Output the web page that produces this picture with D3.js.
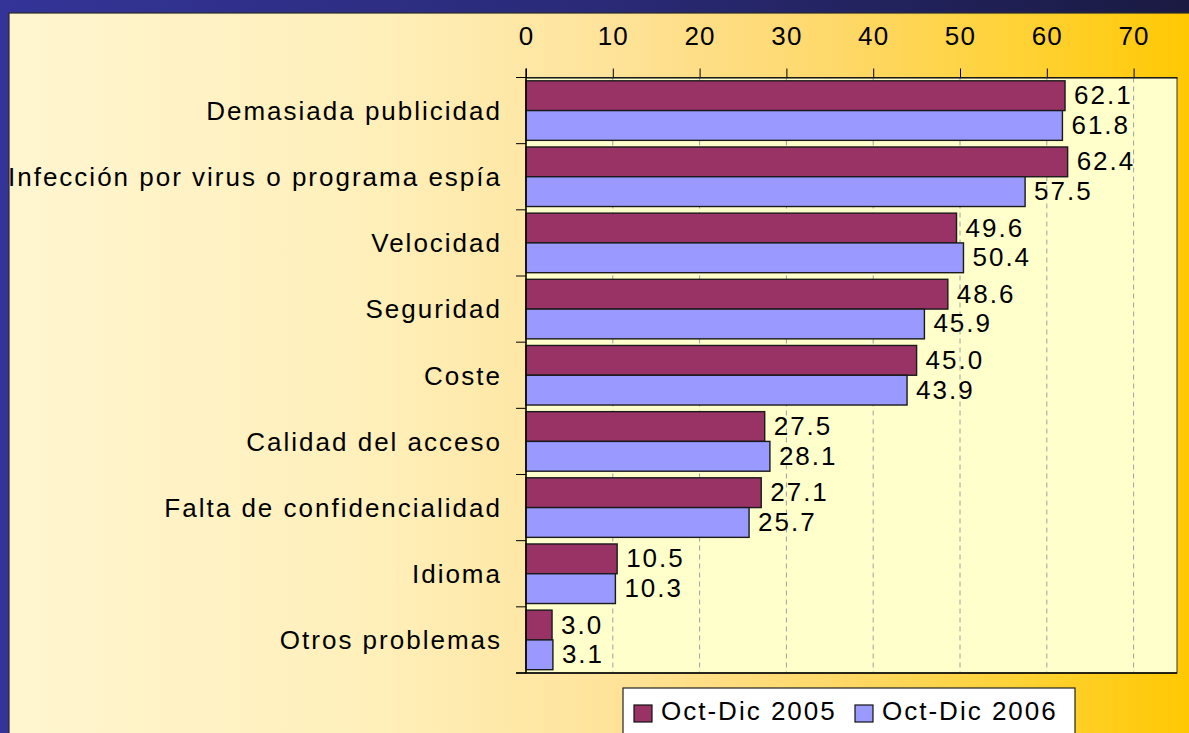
<!DOCTYPE html>
<html><head><meta charset="utf-8">
<script src="https://cdn.jsdelivr.net/npm/d3@7"></script>
<style>
html,body{margin:0;padding:0;background:#2e2e80;}
svg{display:block;}
text{font-family:"Liberation Sans",Arial,sans-serif;fill:#000;}
</style></head>
<body>
<svg id="chart" width="1189" height="733"></svg>
<script>
const categories = ["Demasiada publicidad","Infección por virus o programa espía","Velocidad","Seguridad","Coste","Calidad del acceso","Falta de confidencialidad","Idioma","Otros problemas"];
const seriesNames = ["Oct-Dic 2005","Oct-Dic 2006"];
const values2005 = [62.1,62.4,49.6,48.6,45.0,27.5,27.1,10.5,3.0];
const values2006 = [61.8,57.5,50.4,45.9,43.9,28.1,25.7,10.3,3.1];
const xTicks = [0,10,20,30,40,50,60,70];
const seriesColors = ["#993366","#9999ff"];

(function(){
const svg = d3.select("#chart");
const W = 1189, H = 733;
const defs = svg.append("defs");
const gOuter = defs.append("linearGradient").attr("id","outer").attr("x1","0").attr("x2","1").attr("y1","0").attr("y2","0");
gOuter.append("stop").attr("offset","0").attr("stop-color","#343498");
gOuter.append("stop").attr("offset","0.5").attr("stop-color","#2a2a78");
gOuter.append("stop").attr("offset","1").attr("stop-color","#1a1a42");
const gPanel = defs.append("linearGradient").attr("id","panel").attr("x1","0").attr("x2","1").attr("y1","0").attr("y2","0");
[[0,"#fff5cf"],[0.3,"#fff0bb"],[0.5,"#fee39b"],[0.7,"#fed868"],[0.85,"#ffd236"],[1,"#ffc800"]].forEach(s=>gPanel.append("stop").attr("offset",s[0]).attr("stop-color",s[1]));

svg.append("rect").attr("width",W).attr("height",H).attr("fill","url(#outer)");
svg.append("rect").attr("x",9).attr("y",13).attr("width",W).attr("height",H).attr("fill","url(#panel)").attr("stroke","#2a2a2a").attr("stroke-width",1.2);

const pLeft = 526, pRight = 1177, pTop = 77.5, pBottom = 673;
const x = d3.scaleLinear().domain([0,75]).range([pLeft,pRight]);
const y = d3.scaleBand().domain(categories).range([pTop,pBottom]).paddingInner(0.1).paddingOuter(0.05);
const y2 = d3.scaleBand().domain(seriesNames).range([0,y.bandwidth()]);

svg.append("rect").attr("x",pLeft).attr("y",pTop).attr("width",pRight-pLeft).attr("height",pBottom-pTop).attr("fill","#ffffcc").attr("stroke","#333").attr("stroke-width",1);

svg.append("g").selectAll("line").data(xTicks.filter(d=>d>0)).join("line")
  .attr("x1",d=>x(d)).attr("x2",d=>x(d)).attr("y1",pTop).attr("y2",pBottom)
  .attr("stroke","#a0a0a0").attr("stroke-width",1).attr("stroke-dasharray","5,4");

const xAxis = d3.axisTop(x).tickValues(xTicks).tickSize(9).tickSizeOuter(0).tickPadding(24);
const ga = svg.append("g").attr("transform",`translate(0,${pTop})`).call(xAxis);
ga.select(".domain").attr("stroke","#000");
ga.selectAll(".tick line").attr("stroke","#000");
ga.selectAll(".tick text").attr("font-size",26).attr("fill","#000").style("letter-spacing","1.2px")
  .attr("font-family","Liberation Sans, Arial, sans-serif");

const bounds = categories.map(c=>y(c)-y.step()*y.paddingInner()/2);
bounds.push(pBottom);
bounds[0] = pTop;
svg.append("g").selectAll("line").data(bounds).join("line")
  .attr("x1",pLeft-10).attr("x2",pLeft).attr("y1",d=>d).attr("y2",d=>d).attr("stroke","#000").attr("stroke-width",1);

const rows = categories.map((c,i)=>({c, v:[values2005[i],values2006[i]]}));
const gRows = svg.append("g").selectAll("g").data(rows).join("g").attr("transform",d=>`translate(0,${y(d.c)})`);
gRows.selectAll("rect").data(d=>d.v.map((v,j)=>({v,s:seriesNames[j],j}))).join("rect")
  .attr("x",x(0)).attr("y",d=>y2(d.s)).attr("width",d=>x(d.v)-x(0)).attr("height",y2.bandwidth())
  .attr("fill",d=>seriesColors[d.j]).attr("stroke","#1a1a1a").attr("stroke-width",1.4);
gRows.selectAll("text").data(d=>d.v.map((v,j)=>({v,s:seriesNames[j],j}))).join("text")
  .attr("x",d=>x(d.v)+9).attr("y",d=>y2(d.s)+y2.bandwidth()/2+8.5)
  .attr("font-size",26).style("letter-spacing","2px").text(d=>d.v.toFixed(1));

svg.append("line").attr("x1",pLeft).attr("x2",pLeft).attr("y1",pTop-9).attr("y2",pBottom).attr("stroke","#000").attr("stroke-width",1.3);
svg.append("line").attr("x1",pLeft-10).attr("x2",pRight).attr("y1",pBottom).attr("y2",pBottom).attr("stroke","#000").attr("stroke-width",1.3);

svg.append("g").selectAll("text").data(categories).join("text")
  .attr("x",502).attr("y",d=>y(d)+y.bandwidth()/2+9.3)
  .attr("text-anchor","end").attr("font-size",26).style("letter-spacing","2px").text(d=>d);

const lg = svg.append("g");
lg.append("rect").attr("x",623).attr("y",688).attr("width",452).attr("height",70).attr("fill","#fff").attr("stroke","#222").attr("stroke-width",1.2);
const legX = [634,855];
seriesNames.forEach((s,i)=>{
  lg.append("rect").attr("x",legX[i]).attr("y",705).attr("width",18).attr("height",17).attr("fill",seriesColors[i]).attr("stroke","#111").attr("stroke-width",1.2);
  lg.append("text").attr("x",legX[i]+27).attr("y",720).attr("font-size",26).style("letter-spacing","2px").text(s);
});
})();
</script>
</body></html>
